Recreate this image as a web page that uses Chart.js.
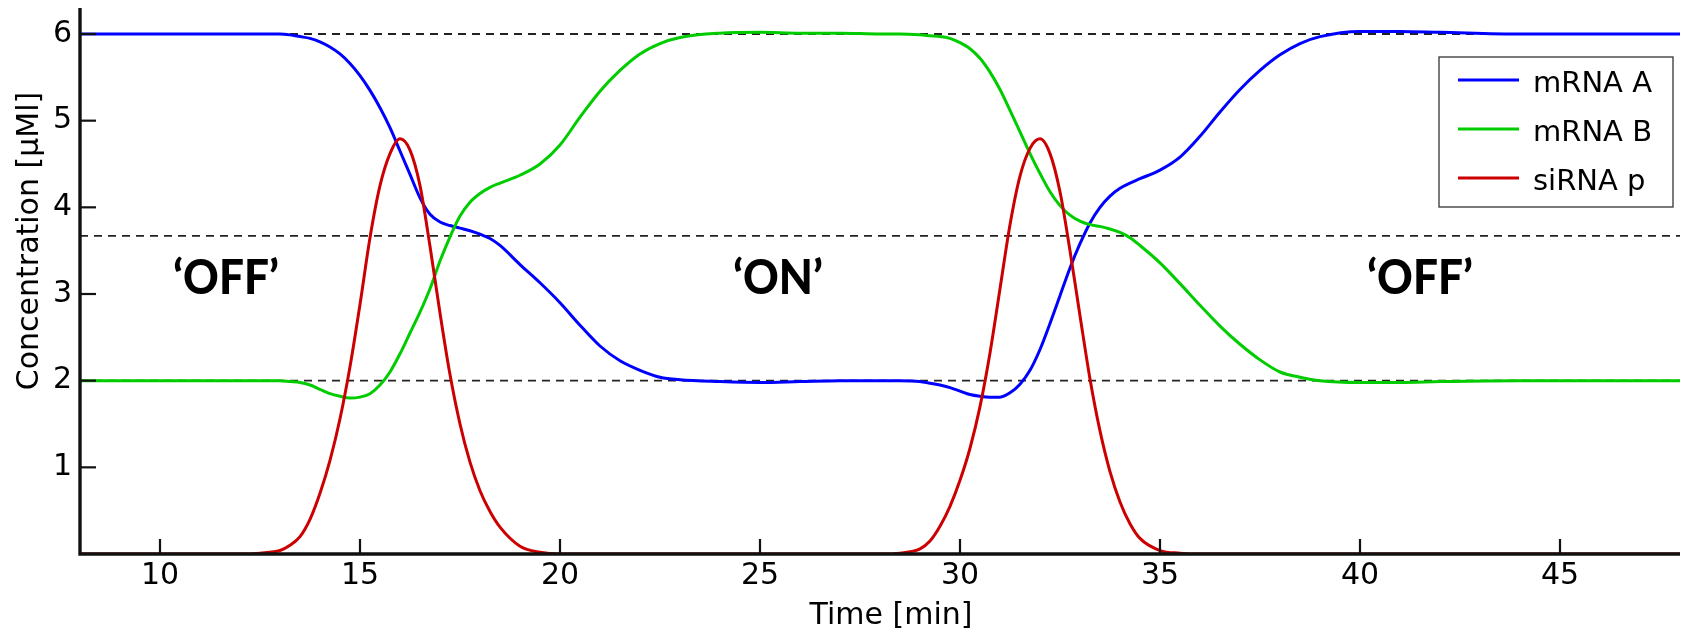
<!DOCTYPE html>
<html>
<head>
<meta charset="utf-8">
<title>mRNA toggle</title>
<script src="https://cdn.jsdelivr.net/npm/chart.js@4.4.0/dist/chart.umd.min.js"></script>
<style>
  html, body { margin: 0; padding: 0; background: #fff; }
  #wrap { width: 1683px; height: 630px; }
</style>
</head>
<body>
<div id="wrap"><canvas id="chart" width="1683" height="630"></canvas></div>
<script>
// Time axis [min]
const timeMin = [
    8, 10, 12, 12.5, 13, 13.25, 13.5, 13.75, 14, 14.25,
    14.5, 14.75, 15, 15.25, 15.5, 15.75, 16, 16.25, 16.5, 16.75,
    17, 17.25, 17.5, 17.75, 18, 18.25, 18.5, 19, 19.5, 20,
    20.5, 21, 21.5, 22, 22.5, 23, 24, 25, 26, 27,
    28, 28.5, 29, 29.25, 29.5, 29.75, 30, 30.25, 30.5, 30.75,
    31, 31.25, 31.5, 31.75, 32, 32.25, 32.5, 32.75, 33, 33.25,
    33.5, 33.75, 34, 34.25, 34.5, 35, 35.5, 36, 36.5, 37,
    37.5, 38, 38.5, 39, 40, 41, 42, 44, 46, 48
];

const mRnaA = [
    6.00, 6.00, 6.00, 6.00, 6.00, 5.99, 5.97, 5.95, 5.91, 5.85,
    5.77, 5.66, 5.52, 5.35, 5.15, 4.92, 4.65, 4.38, 4.11, 3.92,
    3.83, 3.79, 3.76, 3.73, 3.69, 3.64, 3.56, 3.34, 3.13, 2.90,
    2.64, 2.40, 2.23, 2.12, 2.04, 2.01, 1.99, 1.98, 1.99, 2.00,
    2.00, 2.00, 1.99, 1.97, 1.95, 1.92, 1.88, 1.84, 1.82, 1.81,
    1.81, 1.86, 1.96, 2.12, 2.36, 2.66, 2.98, 3.30, 3.58, 3.82,
    4.00, 4.13, 4.22, 4.28, 4.33, 4.43, 4.58, 4.82, 5.10, 5.36,
    5.58, 5.76, 5.89, 5.97, 6.03, 6.03, 6.02, 6.00, 6.00, 6.00
];

const mRnaB = [
    2.00, 2.00, 2.00, 2.00, 2.00, 1.99, 1.98, 1.95, 1.90, 1.85,
    1.82, 1.80, 1.81, 1.85, 1.95, 2.10, 2.31, 2.55, 2.79, 3.06,
    3.38, 3.66, 3.90, 4.06, 4.16, 4.23, 4.28, 4.37, 4.50, 4.72,
    5.04, 5.34, 5.58, 5.77, 5.89, 5.96, 6.01, 6.02, 6.01, 6.01,
    6.00, 6.00, 5.99, 5.98, 5.97, 5.95, 5.90, 5.83, 5.72, 5.56,
    5.36, 5.12, 4.87, 4.62, 4.39, 4.18, 4.02, 3.91, 3.84, 3.80,
    3.78, 3.75, 3.71, 3.65, 3.56, 3.36, 3.12, 2.87, 2.63, 2.42,
    2.24, 2.10, 2.04, 2.00, 1.98, 1.98, 1.99, 2.00, 2.00, 2.00
];

const siRnaP = [
    0, 0, 0, 0.01, 0.04, 0.10, 0.20, 0.40, 0.70, 1.08,
    1.56, 2.16, 2.88, 3.65, 4.25, 4.62, 4.79, 4.66, 4.25, 3.55,
    2.78, 2.07, 1.50, 1.06, 0.73, 0.49, 0.31, 0.09, 0.02, 0,
    0, 0, 0, 0, 0, 0, 0, 0, 0, 0,
    0, 0.01, 0.06, 0.15, 0.32, 0.55, 0.85, 1.22, 1.70, 2.32,
    3.06, 3.80, 4.36, 4.68, 4.79, 4.62, 4.18, 3.50, 2.75, 2.02,
    1.42, 0.95, 0.60, 0.35, 0.18, 0.04, 0.01, 0, 0, 0,
    0, 0, 0, 0, 0, 0, 0, 0, 0, 0
];

const seriesLabels = ['mRNA A', 'mRNA B', 'siRNA p'];
const seriesColors = ['#0000ff', '#00cc00', '#cc0000'];

const xTicks = [10, 15, 20, 25, 30, 35, 40, 45];
const yTicks = [1, 2, 3, 4, 5, 6];
const thresholdLevels = [6, 3.67, 2];

const phaseLabels = ['‘OFF’', '‘ON’', '‘OFF’'];
const phaseTimes = [11.65, 25.45, 41.5];
const phaseLevel = 3.0;

const xTitle = 'Time [min]';
const yTitle = 'Concentration [µMl]';

const FONT = "'DejaVu Sans', sans-serif";

// dashed levels under the curves; axes, labels, legend on top
const overlayPlugin = {
    id: 'overlay',
    beforeDatasetsDraw(chart) {
        const { ctx, chartArea, scales: { y } } = chart;
        ctx.save();
        ctx.strokeStyle = '#222';
        ctx.lineWidth = 1.8;
        ctx.setLineDash([8, 6]);
        thresholdLevels.forEach(v => {
            const py = y.getPixelForValue(v);
            ctx.beginPath();
            ctx.moveTo(chartArea.left, py);
            ctx.lineTo(chartArea.right, py);
            ctx.stroke();
        });
        ctx.restore();
    },
    afterDraw(chart) {
        const { ctx, chartArea, scales: { x, y } } = chart;
        const { left, right, top, bottom } = chartArea;
        ctx.save();

        // axis lines (over the curves, like the original spines)
        ctx.strokeStyle = '#111';
        ctx.lineWidth = 3.4;
        ctx.beginPath();
        ctx.moveTo(left, top);
        ctx.lineTo(left, bottom);
        ctx.lineTo(right, bottom);
        ctx.stroke();

        // inward tick marks
        ctx.lineWidth = 2.2;
        xTicks.forEach(v => {
            const px = x.getPixelForValue(v);
            ctx.beginPath();
            ctx.moveTo(px, bottom);
            ctx.lineTo(px, bottom - 15);
            ctx.stroke();
        });
        yTicks.forEach(v => {
            const py = y.getPixelForValue(v);
            ctx.beginPath();
            ctx.moveTo(left, py);
            ctx.lineTo(left + 16, py);
            ctx.stroke();
        });

        // phase labels
        ctx.fillStyle = '#000';
        ctx.font = "900 48px Lato, 'Open Sans', sans-serif";
        ctx.textAlign = 'center';
        ctx.textBaseline = 'alphabetic';
        phaseLabels.forEach((txt, i) => {
            ctx.save();
            ctx.translate(x.getPixelForValue(phaseTimes[i]), y.getPixelForValue(phaseLevel));
            ctx.scale(0.92, 1);
            ctx.fillText(txt, 0, 0);
            ctx.restore();
        });

        // axis titles
        ctx.font = '30px ' + FONT;
        ctx.fillText(xTitle, (left + right) / 2 + 11, 624);
        ctx.save();
        ctx.translate(38, 241);
        ctx.rotate(-Math.PI / 2);
        ctx.fillText(yTitle, 0, 0);
        ctx.restore();

        // legend box
        const boxW = 234, boxH = 150;
        const boxX = right - 241, boxY = 57;
        ctx.fillStyle = '#fff';
        ctx.fillRect(boxX, boxY, boxW, boxH);
        ctx.strokeStyle = '#333';
        ctx.lineWidth = 1.3;
        ctx.strokeRect(boxX, boxY, boxW, boxH);
        ctx.font = '29px ' + FONT;
        ctx.textAlign = 'left';
        seriesLabels.forEach((label, i) => {
            const rowY = boxY + 23 + i * 49;
            ctx.strokeStyle = seriesColors[i];
            ctx.lineWidth = 3;
            ctx.beginPath();
            ctx.moveTo(boxX + 19, rowY);
            ctx.lineTo(boxX + 80, rowY);
            ctx.stroke();
            ctx.fillStyle = '#000';
            ctx.fillText(label, boxX + 94, rowY + 12);
        });
        ctx.restore();
    }
};

const seriesValues = [mRnaA, mRnaB, siRnaP];

new Chart(document.getElementById('chart'), {
    type: 'line',
    data: {
        datasets: seriesValues.map((vals, i) => ({
            label: seriesLabels[i],
            data: timeMin.map((t, k) => ({ x: t, y: vals[k] })),
            borderColor: seriesColors[i],
            borderWidth: 3,
            pointRadius: 0,
            fill: false,
            cubicInterpolationMode: 'monotone',
            order: seriesValues.length - i
        }))
    },
    options: {
        responsive: false,
        animation: false,
        devicePixelRatio: 1,
        layout: { padding: { top: 8, right: 3, left: 0, bottom: 0 } },
        plugins: { legend: { display: false }, tooltip: { enabled: false } },
        scales: {
            x: {
                type: 'linear',
                min: 8,
                max: 48,
                afterBuildTicks: s => { s.ticks = xTicks.map(v => ({ value: v })); },
                afterFit: s => { s.height = 76; s.paddingLeft = 0; s.paddingRight = 0; },
                grid: { display: false, drawTicks: false },
                border: { display: false },
                ticks: {
                    color: '#000',
                    font: { family: FONT, size: 30 },
                    padding: 4,
                    maxRotation: 0,
                    autoSkip: false
                }
            },
            y: {
                type: 'linear',
                min: 0,
                max: 6.3,
                afterBuildTicks: s => { s.ticks = yTicks.map(v => ({ value: v })); },
                afterFit: s => { s.width = 80; s.paddingTop = 0; s.paddingBottom = 0; },
                grid: { display: false, drawTicks: false },
                border: { display: false },
                ticks: {
                    color: '#000',
                    font: { family: FONT, size: 30 },
                    padding: 8
                }
            }
        }
    },
    plugins: [overlayPlugin]
});
</script>
</body>
</html>
